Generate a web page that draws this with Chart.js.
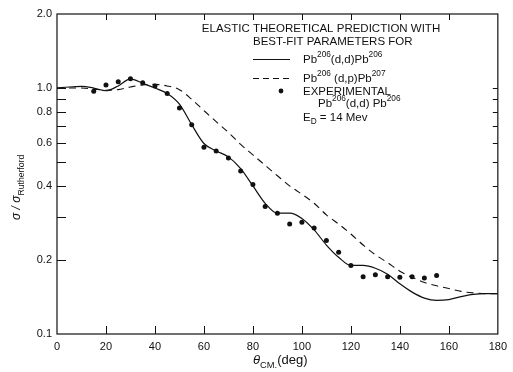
<!DOCTYPE html>
<html lang="en">
<head>
<meta charset="UTF-8" />
<title>Pb206 elastic scattering, 14 MeV deuterons</title>
<script src="https://cdn.jsdelivr.net/npm/chart.js"></script>
<style>
  * { margin: 0; padding: 0; box-sizing: border-box; }
  body { background: #fff; }
  #wrap { width: 513px; height: 372px; }
</style>
</head>
<body>
<div id="wrap"><canvas id="chart" width="513" height="372"></canvas></div>
<script>
// theory curves, sampled every 5 deg
const angleGrid = [0,5,10,15,20,25,30,35,40,45,50,55,60,65,70,75,80,85,90,
                   95,100,105,110,115,120,125,130,135,140,145,150,155,160,165,170,175,180];
const theoryDD = [1.00,1.01,1.015,1.00,0.975,1.02,1.09,1.045,1.0,0.95,0.86,0.71,0.595,0.555,0.525,0.47,0.40,0.34,0.31,
                  0.31,0.295,0.265,0.23,0.205,0.19,0.19,0.185,0.175,0.16,0.148,0.14,0.137,0.138,0.142,0.145,0.146,0.146];
const theoryDP = [1.00,1.00,1.00,0.99,0.98,0.985,1.01,1.03,1.035,1.02,0.985,0.90,0.81,0.73,0.66,0.59,0.535,0.485,0.44,
                  0.40,0.37,0.34,0.305,0.28,0.255,0.23,0.21,0.195,0.18,0.17,0.162,0.157,0.153,0.149,0.147,0.146,0.146];

// experimental points
const expAngles = [15,20,25,30,35,40,45,50,55,60,65,70,75,80,85,90,95,100,105,110,115,120,125,130,135,140,145,150,155];
const expValues = [0.97,1.03,1.06,1.09,1.05,1.02,0.95,0.83,0.71,0.575,0.555,0.52,0.46,0.405,0.33,0.31,0.28,0.285,0.27,
                   0.24,0.215,0.19,0.171,0.174,0.171,0.17,0.171,0.169,0.173];

const xTickValues = [0,20,40,60,80,100,120,140,160,180];
const yTickValues = [0.1,0.2,0.3,0.4,0.5,0.6,0.7,0.8,0.9,1.0,2.0];
const yTickLabels = { 0.1: '0.1', 0.2: '0.2', 0.4: '0.4', 0.6: '0.6', 0.8: '0.8', 1: '1.0', 2: '2.0' };

const FONT = 'Liberation Sans';
const pts = (xs, ys) => xs.map((x, i) => ({ x: x, y: ys[i] }));

// frame, inward ticks, legend block and axis titles
const paperDecor = {
  id: 'paperDecor',
  afterDraw(chart) {
    const ctx = chart.ctx;
    const a = chart.chartArea;
    const xs = chart.scales.x, ys = chart.scales.y;
    ctx.save();
    ctx.strokeStyle = '#111';
    ctx.lineWidth = 1.2;
    ctx.strokeRect(a.left, a.top, a.right - a.left, a.bottom - a.top);

    ctx.lineWidth = 1;
    ctx.beginPath();
    xs.ticks.forEach(t => {
      if (t.value === 0 || t.value === 180) return;
      const px = Math.round(xs.getPixelForValue(t.value)) + 0.5;
      ctx.moveTo(px, a.bottom); ctx.lineTo(px, a.bottom - 8);
      ctx.moveTo(px, a.top); ctx.lineTo(px, a.top + 6);
    });
    ys.ticks.forEach(t => {
      if (t.value === 0.1 || t.value === 2) return;
      const py = Math.round(ys.getPixelForValue(t.value)) + 0.5;
      ctx.moveTo(a.left, py); ctx.lineTo(a.left + 9, py);
      ctx.moveTo(a.right, py); ctx.lineTo(a.right - 5, py);
    });
    ctx.stroke();

    ctx.fillStyle = '#111';
    ctx.textBaseline = 'alphabetic';
    const rich = (x, y, parts, size) => {
      parts.forEach(p => {
        const [txt, kind] = p;
        const s = kind === 'n' || kind === 'i' ? size : size * 0.72;
        const dy = kind === 'sup' ? -size * 0.5 : kind === 'sub' ? size * 0.3 : 0;
        ctx.font = (kind === 'i' ? 'italic ' : '') + s + 'px "' + FONT + '"';
        ctx.fillText(txt, x, y + dy);
        x += ctx.measureText(txt).width;
      });
      return x;
    };

    const fs = 11.5;
    ctx.font = fs + 'px "' + FONT + '"';
    const lead = ctx.measureText('ELASTIC ').width;
    rich(253 - lead, 32, [['ELASTIC THEORETICAL PREDICTION WITH', 'n']], fs);
    rich(253, 45, [['BEST-FIT PARAMETERS FOR', 'n']], fs);

    ctx.lineWidth = 1.1;
    ctx.beginPath(); ctx.moveTo(253, 59.5); ctx.lineTo(290, 59.5); ctx.stroke();
    rich(303, 63, [['Pb', 'n'], ['206', 'sup'], ['(d,d)Pb', 'n'], ['206', 'sup']], fs);

    ctx.setLineDash([6, 4]);
    ctx.beginPath(); ctx.moveTo(253, 78.5); ctx.lineTo(292, 78.5); ctx.stroke();
    ctx.setLineDash([]);
    rich(303, 82, [['Pb', 'n'], ['206', 'sup'], [' (d,p)Pb', 'n'], ['207', 'sup']], fs);

    ctx.beginPath(); ctx.arc(281, 91, 2.4, 0, Math.PI * 2); ctx.fill();
    rich(303, 95, [['EXPERIMENTAL', 'n']], fs);
    rich(318, 107, [['Pb', 'n'], ['206', 'sup'], ['(d,d) Pb', 'n'], ['206', 'sup']], fs);
    rich(303, 121, [['E', 'n'], ['D', 'sub'], [' = 14 Mev', 'n']], fs);

    // x title
    rich(253, 364, [['θ', 'i'], ['CM.', 'sub'], ['(deg)', 'n']], 13);

    // y title, rotated
    ctx.save();
    ctx.translate(20, 220);
    ctx.rotate(-Math.PI / 2);
    rich(0, 0, [['σ / σ', 'i'], ['Rutherford', 'sub']], 12);
    ctx.restore();

    ctx.restore();
  }
};

new Chart(document.getElementById('chart').getContext('2d'), {
  type: 'scatter',
  data: {
    datasets: [
      {
        label: 'Pb206(d,d)Pb206',
        data: pts(angleGrid, theoryDD),
        showLine: true,
        borderColor: '#111',
        borderWidth: 1.2,
        pointRadius: 0,
        cubicInterpolationMode: 'monotone'
      },
      {
        label: 'Pb206(d,p)Pb207',
        data: pts(angleGrid, theoryDP),
        showLine: true,
        borderColor: '#111',
        borderWidth: 1.1,
        borderDash: [7, 5],
        pointRadius: 0,
        cubicInterpolationMode: 'monotone'
      },
      {
        label: 'Experimental',
        data: pts(expAngles, expValues),
        showLine: false,
        pointRadius: 2.5,
        pointBackgroundColor: '#111',
        pointBorderWidth: 0
      }
    ]
  },
  options: {
    responsive: false,
    animation: false,
    devicePixelRatio: 1,
    layout: { padding: { top: 14, right: 10, left: 0, bottom: 0 } },
    plugins: { legend: { display: false }, tooltip: { enabled: false } },
    scales: {
      x: {
        type: 'linear',
        min: 0, max: 180,
        afterBuildTicks: s => { s.ticks = xTickValues.map(v => ({ value: v })); },
        afterFit: s => { s.height = 38; },
        grid: { drawOnChartArea: false, drawTicks: false },
        border: { display: false },
        ticks: {
          padding: 6,
          maxRotation: 0,
          autoSkip: false,
          color: '#111',
          font: { family: FONT, size: 11 }
        }
      },
      y: {
        type: 'logarithmic',
        min: 0.1, max: 2.0,
        afterBuildTicks: s => { s.ticks = yTickValues.map(v => ({ value: v })); },
        afterFit: s => { s.width = 57; },
        grid: { drawOnChartArea: false, drawTicks: false },
        border: { display: false },
        ticks: {
          padding: 5,
          autoSkip: false,
          color: '#111',
          font: { family: FONT, size: 11 },
          callback: v => yTickLabels[Math.round(v * 10) / 10] || ''
        }
      }
    }
  },
  plugins: [paperDecor]
});
</script>
</body>
</html>
